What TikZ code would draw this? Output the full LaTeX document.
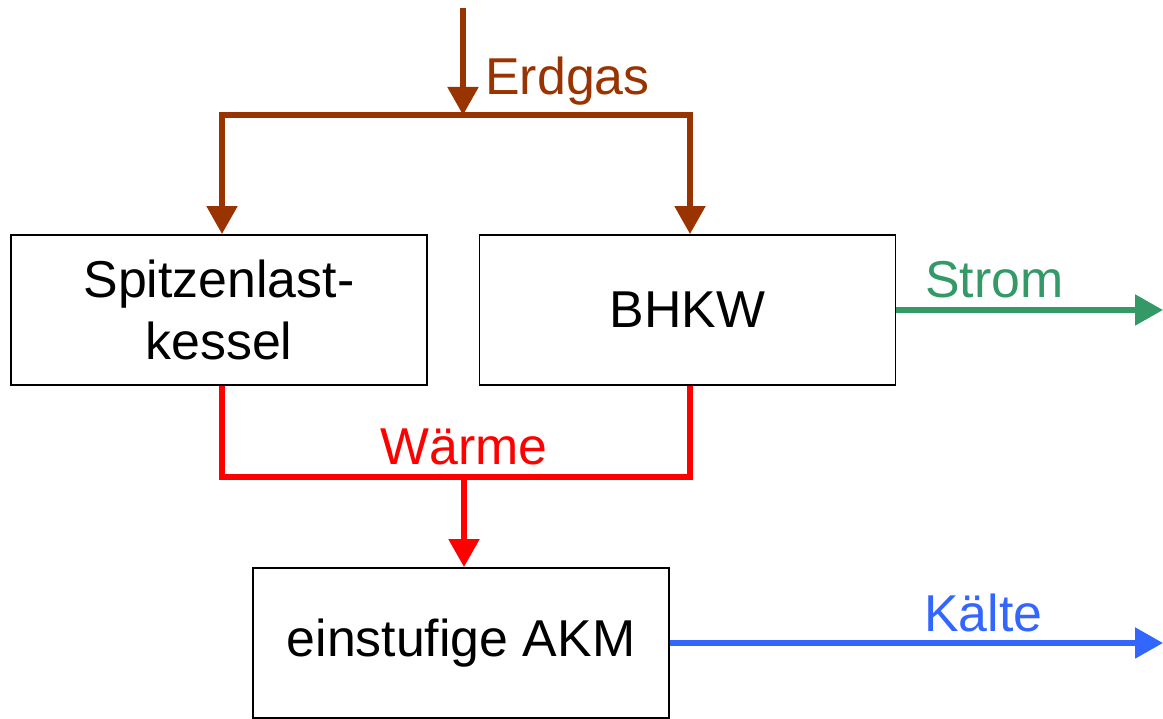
\documentclass[tikz,border=0pt]{standalone}
\usepackage{fontspec}
\setmainfont{Liberation Sans}
\usepackage{tikz}
\usetikzlibrary{arrows.meta,positioning,calc}
\definecolor{gascol}{HTML}{993300}
\definecolor{stromcol}{HTML}{339966}
\definecolor{waermecol}{HTML}{FF0000}
\definecolor{kaeltecol}{HTML}{3366FF}

\begin{document}
\begin{tikzpicture}[
  unit/.style={draw, line width=1.1pt, minimum width=8.32cm, minimum height=3cm, align=center, font=\fontsize{29.5}{35.4}\selectfont},
  flow/.style={line width=3pt, line join=miter},
  lbl/.style={inner sep=0pt, font=\fontsize{29.5}{35.4}\selectfont},
  >={Triangle[width=0.6cm, length=0.56cm]}
]
\useasboundingbox (0,0) rectangle (23.26,14.38);
\node[unit] (kessel) at (4.38,8.18) {Spitzenlast-\\kessel};
\node[unit] (bhkw) at (13.75,8.18) {BHKW};
\node[unit] (akm) at (9.22,1.52) {einstufige AKM};

\coordinate (gasin) at (9.26,14.22);
\coordinate (gassplit) at (9.26,12.08);
\coordinate (heatjoin) at (9.28,4.84);
\coordinate (stromout) at (23.26,8.18);
\coordinate (kaelteout) at (23.26,1.52);

\draw[flow, gascol, ->] (gasin) -- (gassplit);
\draw[flow, gascol, ->] (gassplit) -| ($(kessel.north)+(0.06,0)$);
\draw[flow, gascol, ->] (gassplit) -| ($(bhkw.north)+(0.05,0)$);
\draw[flow, waermecol] ($(kessel.south)+(0.06,0)$) |- (heatjoin) -| ($(bhkw.south)+(0.05,0)$);
\draw[flow, waermecol, ->] (heatjoin) -- (heatjoin |- akm.north);
\draw[flow, stromcol, ->] (bhkw.east) -- (stromout);
\draw[flow, kaeltecol, ->] (akm.east) -- (kaelteout);

\node[lbl, gascol, anchor=base west] (erdgas) at (9.7,12.48) {Erdgas};
\node[lbl, waermecol, anchor=base west] (waerme) at (7.6,5.08) {Wärme};
\node[lbl, stromcol, anchor=base west] (strom) at (18.5,8.42) {Strom};
\node[lbl, kaeltecol, anchor=base west] (kaelte) at (18.48,1.74) {Kälte};
\end{tikzpicture}
\end{document}
